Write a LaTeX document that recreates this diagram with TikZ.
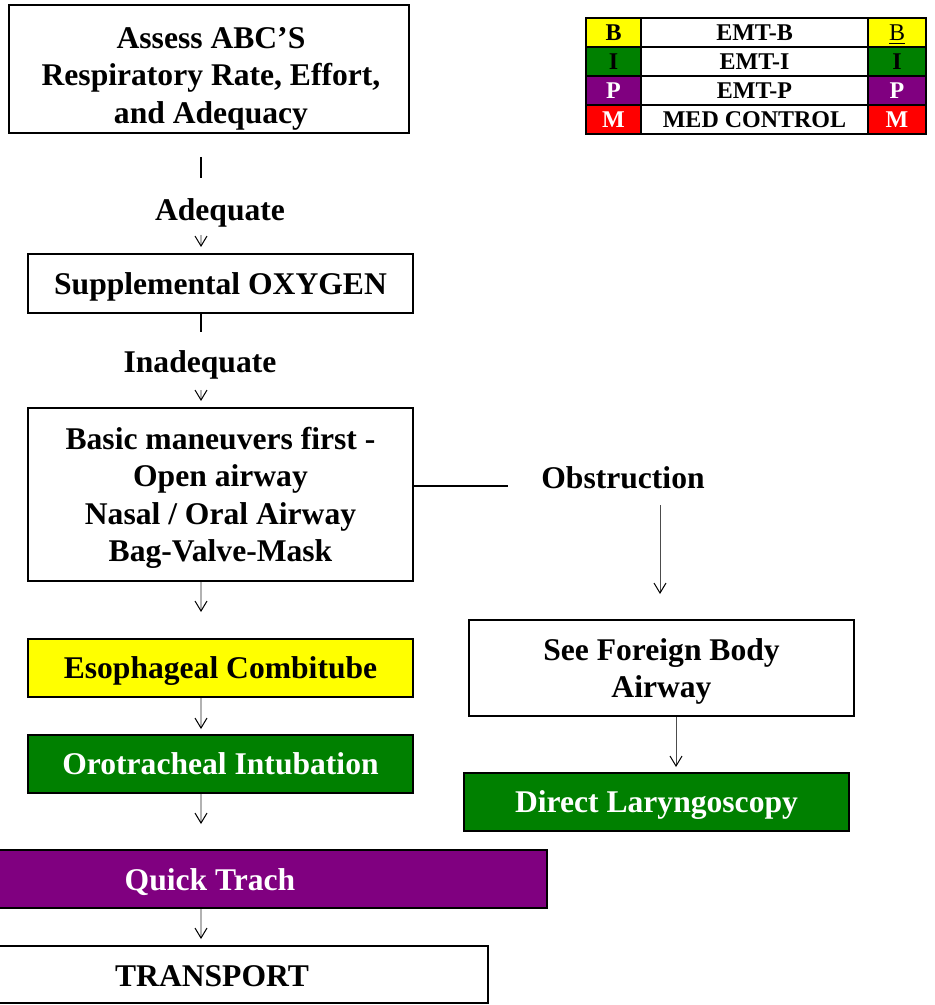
\documentclass[tikz,border=0pt]{standalone}
\usepackage{fontspec}
\setmainfont{Liberation Serif}
\usepackage{tikz}
\usetikzlibrary{shapes,arrows.meta}
\definecolor{bYellow}{HTML}{FFFF00}
\definecolor{bGreen}{HTML}{008000}
\definecolor{bPurple}{HTML}{800080}
\definecolor{bRed}{HTML}{FF0000}
\newcommand{\flowfont}{\fontsize{15.8}{18.75}\selectfont\bfseries}
\newcommand{\keyfont}{\fontsize{12}{14}\selectfont\bfseries}
\tikzstyle{block} = [rectangle, draw, line width=1pt, minimum width=192.5pt,
    text centered, align=center, inner sep=0pt, text depth=0pt, font=\flowfont]
\tikzstyle{lbl} = [font=\flowfont, align=center, text depth=0pt]
\tikzstyle{cell} = [rectangle, draw, line width=1pt, minimum height=14.5pt,
    inner sep=0pt, text depth=0pt, font=\keyfont]
\tikzstyle{tick} = [line width=1pt]
\tikzstyle{arrow} = [draw=gray!60, line width=0.7pt,
    -{Straight Barb[length=5pt,width=6pt,color=black,line width=0.5pt]}]

\begin{document}
\begin{tikzpicture}[x=0.5pt, y=-0.5pt]
		\useasboundingbox (0,0) rectangle (935,1005);
		% draw the text boxes first
		\node [block, minimum width=200pt, minimum height=64pt] (assess) at (209,69) {};
		\node [lbl] (assesstxt) at (211,75) {Assess ABC’S\\Respiratory Rate, Effort,\\and Adequacy};
		\node [block, minimum height=29.5pt] (supp) at (220.5,283.5) {Supplemental OXYGEN};
		\node [block, minimum height=86.5pt] (basic) at (220.5,494.5) {Basic maneuvers first -\\Open airway\\Nasal / Oral Airway\\Bag-Valve-Mask};
		\node [block, fill=bYellow, minimum height=29pt] (combi) at (220.5,668) {Esophageal Combitube};
		\node [block, fill=bGreen, text=white, minimum height=29pt] (oro) at (220.5,764) {Orotracheal Intubation};
		\node [block, fill=bPurple, minimum width=274.5pt, minimum height=29pt] (quick) at (272.5,879) {};
		\node [lbl, text=white] (quicktxt) at (210,880) {Quick Trach};
		\node [block, minimum width=245pt, minimum height=28.5pt] (transport) at (243,974.5) {};
		\node [lbl] (transtxt) at (212,976) {TRANSPORT};
		\node [block, minimum height=48pt] (foreign) at (661.5,668) {See Foreign Body\\Airway};
		\node [block, fill=bGreen, text=white, minimum height=29pt] (direct) at (656.5,802) {Direct Laryngoscopy};

		% branch labels
		\node [lbl] (adeq) at (220,210) {Adequate};
		\node [lbl] (inadeq) at (200,362) {Inadequate};
		\node [lbl] (obstr) at (623,478) {Obstruction};

		% key table, one row per level
		\foreach \ltr/\rtr/\txt/\fc/\tc [count=\i] in {B/\textmd{\underline{B}}/EMT-B/bYellow/black, I/I/EMT-I/bGreen/black, P/P/EMT-P/bPurple/white, M/M/MED CONTROL/bRed/white} {
			\node [cell, fill=\fc, text=\tc, minimum width=27.5pt] (keyl\i) at (613.5,3.5+29*\i) {\ltr};
			\node [cell, minimum width=113.5pt] (keym\i) at (754.5,3.5+29*\i) {\txt};
			\node [cell, fill=\fc, text=\tc, minimum width=29pt] (keyr\i) at (897,3.5+29*\i) {\rtr};
		}

		% draw the edges between the boxes
		\coordinate (tickA) at (201,157);
		\coordinate (tickB) at (201,178);
		\coordinate (adeqout) at (201,235);
		\coordinate (tickC) at (201,332);
		\coordinate (inadeqout) at (201,390);
		\coordinate (mainline) at (201,0);
		\coordinate (obstrend) at (508,486);
		\coordinate (obstrout) at (660,505);
		\coordinate (fbout) at ([xshift=7.25pt]foreign.south);
		\draw [tick] (tickA) -- (tickB);
		\draw [arrow, shorten >=3pt] (adeqout) -- (adeqout |- supp.north);
		\draw [tick] (tickC |- supp.south) -- (tickC);
		\draw [arrow, shorten >=3pt] (inadeqout) -- (inadeqout |- basic.north);
		\draw [arrow, shorten >=13pt] (mainline |- basic.south) -- (mainline |- combi.north);
		\draw [arrow, shorten >=2.5pt] (mainline |- combi.south) -- (mainline |- oro.north);
		\draw [arrow, shorten >=12.5pt] (mainline |- oro.south) -- (mainline |- quick.north);
		\draw [arrow, shorten >=3pt] (mainline |- quick.south) -- (mainline |- transport.north);
		\draw [tick] (basic.east |- obstrend) -- (obstrend);
		\draw [arrow, draw=gray!60!black, line width=0.5pt, shorten >=12.5pt] (obstrout) -- (obstrout |- foreign.north);
		\draw [arrow, draw=gray!60!black, line width=0.5pt, shorten >=2.5pt] (fbout) -- (fbout |- direct.north);
	\end{tikzpicture}
\end{document}
